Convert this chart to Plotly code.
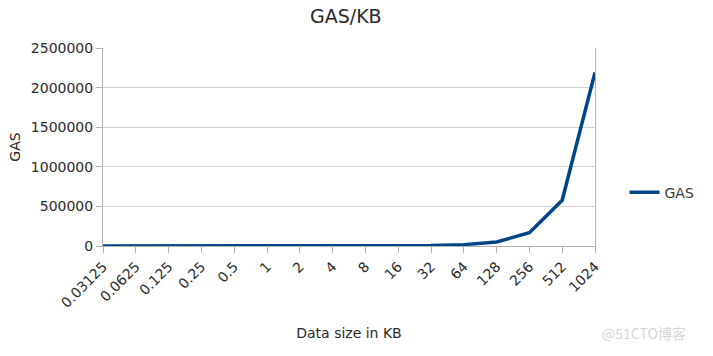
import plotly.graph_objects as go

categories = ["0.03125", "0.0625", "0.125", "0.25", "0.5", "1", "2", "4", "8",
              "16", "32", "64", "128", "256", "512", "1024"]
gas = [150, 200, 250, 300, 400, 500, 700, 900, 1300, 2200, 5000, 17000,
       51000, 167000, 577000, 2190000]

fig = go.Figure()
fig.add_trace(go.Scatter(
    x=categories, y=gas, mode="lines", name="GAS",
    line=dict(color="#004586", width=3.5),
))

axis_font = dict(family="DejaVu Sans", size=14, color="#2a2a2a")
fig.update_layout(
    width=713, height=356,
    margin=dict(l=103, r=118, t=48, b=110),
    paper_bgcolor="white", plot_bgcolor="white",
    title=dict(text="GAS/KB", x=0.485, xanchor="center", y=0.955, yanchor="middle",
               font=dict(family="DejaVu Sans", size=19, color="#2a2a2a")),
    showlegend=True,
    legend=dict(x=1.06, y=0.27, xanchor="left", yanchor="middle",
                font=dict(family="DejaVu Sans", size=14, color="#3a3a3a"),
                bgcolor="rgba(0,0,0,0)"),
    xaxis=dict(
        type="category", range=[0, 15], tickangle=-45,
        tickfont=axis_font, showgrid=False,
        ticks="outside", ticklen=6, tickcolor="#b3b3b3",
        showline=True, linecolor="#b3b3b3", linewidth=1,
        title=dict(text="Data size in KB", font=dict(family="DejaVu Sans", size=14, color="#2a2a2a"),
                   standoff=18),
    ),
    yaxis=dict(
        range=[0, 2500000], dtick=500000, tickformat="d",
        tickfont=axis_font, showgrid=True, gridcolor="#d0d0d0",
        ticks="outside", ticklen=6, tickcolor="#b3b3b3",
        showline=True, linecolor="#b3b3b3", linewidth=1, mirror=True,
        zeroline=False,
        title=dict(text="GAS", font=dict(family="DejaVu Sans", size=14, color="#2a2a2a"),
                   standoff=6),
    ),
)

fig.add_annotation(
    text="@51CTO博客", xref="paper", yref="paper",
    x=1.19, y=-0.44, xanchor="right", yanchor="middle", showarrow=False,
    font=dict(family="Noto Sans CJK SC", size=14, color="#d6d6d6"),
)

fig.write_html("out.html")
